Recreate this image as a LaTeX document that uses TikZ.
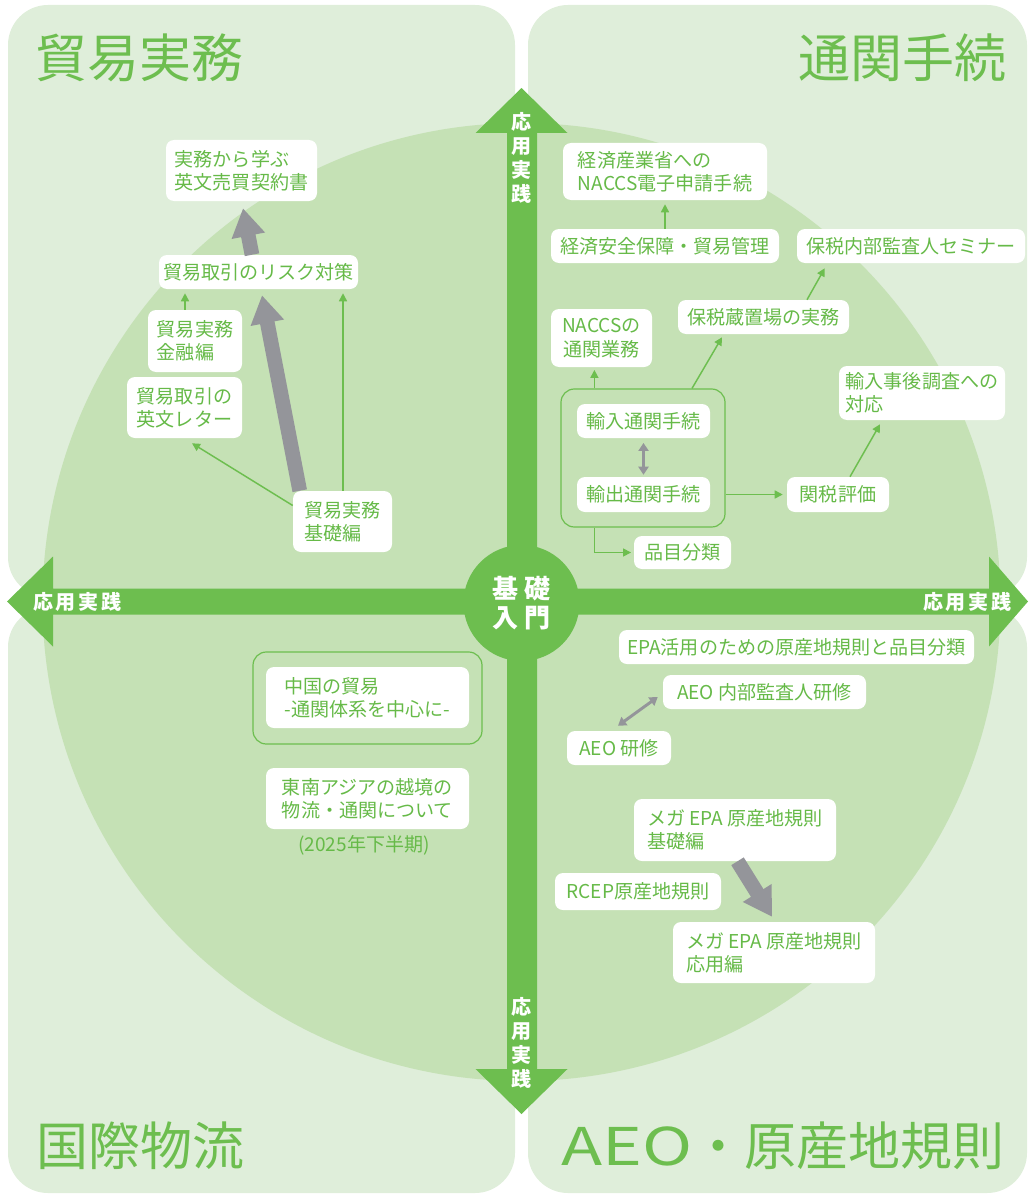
\documentclass[tikz,border=0pt]{standalone}
\usepackage{fontspec}
\usepackage{graphicx}
\setmainfont{Noto Sans CJK JP}
\usetikzlibrary{arrows.meta,calc}
\definecolor{panel}{HTML}{DFEEDA}
\definecolor{circ}{HTML}{C5E1B5}
\definecolor{ag}{HTML}{6DBE4F}
\definecolor{tg}{HTML}{66BA48}
\definecolor{gr}{HTML}{94959A}
\newcommand\jpnode{\fontsize{14.3}{17.5}\selectfont}
\newcommand\jptitle{\fontsize{39}{44}\selectfont}
\newcommand\jpaxis{\fontsize{15}{18}\selectfont\bfseries}
\newcommand\jpcore{\fontsize{19.5}{22}\selectfont\bfseries}
\tikzset{
  box/.style={fill=white, rounded corners=6pt, text=tg, font=\jpnode, align=left, inner sep=0pt},
  wh/.style 2 args={minimum width=#1*0.75pt, minimum height=#2*0.75pt},
  grpbox/.style={draw=ag, line width=0.9pt, rounded corners=10pt, inner sep=0pt},
  link/.style={draw=ag, line width=1.1pt, -{Triangle[length=6pt,width=6pt]}},
  bigarrow/.style={draw=gr, line width=11pt, -{Triangle[length=21pt,width=24pt]}},
  dblarrow/.style={draw=gr, line width=2.8pt, {Triangle[length=6pt,width=7.5pt]}-{Triangle[length=6pt,width=7.5pt]}},
  titletext/.style={text=ag, font=\jptitle, inner sep=0pt},
  axislab/.style={text=white, font=\jpaxis, inner sep=0pt, align=center},
}
\begin{document}
\begin{tikzpicture}[x=0.75pt,y=-0.75pt]
\useasboundingbox (0,0) rectangle (1029,1195);
% panels
\fill[panel, rounded corners=30pt] (8,5) rectangle (515,597);
\fill[panel, rounded corners=30pt] (528,5) rectangle (1027,597);
\fill[panel, rounded corners=30pt] (8,607) rectangle (515,1193);
\fill[panel, rounded corners=30pt] (528,607) rectangle (1027,1193);
% big circle
\fill[circ] (521.5,602) circle[radius=359.25pt];
% axes
\fill[ag] (507,133) -- (475.5,133) -- (521.5,88) -- (567.5,133) -- (537,133)
  -- (537,1069) -- (567.5,1069) -- (521.5,1114) -- (475.5,1069) -- (507,1069) -- cycle;
\fill[ag] (53,588.5) -- (53,556.5) -- (7,601.5) -- (53,646.5) -- (53,614.5)
  -- (989,614.5) -- (989,646.5) -- (1028,601.5) -- (989,556.5) -- (989,588.5) -- cycle;
\node[circle, fill=ag, minimum size=116*0.75pt, inner sep=0pt, text=white, font=\jpcore, align=center] (core) at (521.5,603) {基\hspace{4pt}礎\\入\hspace{4pt}門};
\node[axislab] (vtop) at (521.5,158) {応\\用\\実\\践};
\node[axislab] (vbot) at (521.5,1043) {応\\用\\実\\践};
\node[axislab] (hleft) at (77,601.5) {応\hspace{2pt}用\hspace{2pt}実\hspace{2pt}践};
\node[axislab] (hright) at (967,601.5) {応\hspace{2pt}用\hspace{2pt}実\hspace{2pt}践};
% titles
\node[titletext, anchor=west] (t1) at (35,58) {貿易実務};
\node[titletext, anchor=east] (t2) at (1007,58) {通関手続};
\node[titletext, anchor=west] (t3) at (36,1146) {国際物流};
\node[titletext, anchor=east] (t4) at (1005,1146) {\scalebox{1.3}[1]{AEO}・原産地規則};
% top-left nodes
\node[box, wh={151}{61}] (prac) at (241.5,170.5) {実務から学ぶ\\英文売買契約書};
\node[box, wh={199}{34}] (risk) at (258.5,272) {貿易取引のリスク対策};
\node[box, wh={94}{62}] (fin) at (195,341) {貿易実務\\金融編};
\node[box, wh={115}{61}] (letter) at (184.5,407.5) {貿易取引の\\英文レター};
\node[box, wh={99}{61}] (kiso) at (342.5,521.5) {貿易実務\\基礎編};
% top-right nodes
\node[box, wh={204}{57}] (meti) at (665,171.5) {経済産業省への\\NACCS電子申請手続};
\node[box, wh={228}{34}] (ecosec) at (665,246) {経済安全保障・貿易管理};
\node[box, wh={228}{34}] (hozeiaudit) at (911,246) {保税内部監査人セミナー};
\node[box, wh={101}{58}, align=center] (naccs) at (601.5,338) {NACCSの\\通関業務};
\node[box, wh={171}{34}] (hozei) at (763.5,317) {保税蔵置場の実務};
\node[box, wh={166}{54}] (postaudit) at (922,393) {輸入事後調査への\\対応};
\node[grpbox, wh={164}{138}] (grp) at (643,458) {};
\node[box, wh={133}{34}] (import) at (643.5,421) {輸入通関手続};
\node[box, wh={133}{35}] (export) at (643.5,494.5) {輸出通関手続};
\node[box, wh={102}{35}] (valuation) at (838,494.5) {関税評価};
\node[box, wh={97}{33}] (hinmoku) at (682.5,552.5) {品目分類};
% bottom-left nodes
\node[grpbox, wh={229}{92}] (grp2) at (367.5,698) {};
\node[box, wh={203}{61}] (china) at (367.5,697.5) {中国の貿易\\-通関体系を中心に-};
\node[box, wh={203}{61}] (sea) at (367.5,798.5) {東南アジアの越境の\\物流・通関について};
\node[text=tg, font=\jpnode, inner sep=0pt] (note) at (364,845) {(2025年下半期)};
% bottom-right nodes
\node[box, wh={355}{34}] (epa) at (796.5,647) {EPA活用のための原産地規則と品目分類};
\node[box, wh={203}{34}] (aeoaud) at (764.5,692) {AEO~内部監査人研修};
\node[box, wh={104}{34}] (aeo) at (619,748) {AEO~研修};
\node[box, wh={202}{62}] (mega1) at (735,830) {メガ~EPA~原産地規則\\基礎編};
\node[box, wh={166}{37}] (rcep) at (638,891.5) {RCEP原産地規則};
\node[box, wh={202}{61}] (mega2) at (774,952.5) {メガ~EPA~原産地規則\\応用編};
% connectors top-left
\coordinate (a1s) at ($(kiso.north west)+(7,0)$);
\coordinate (a1e) at ($(risk.south)+(3.5,6)$);
\draw[bigarrow] (a1s) -- (a1e);
\coordinate (a2s) at ($(risk.north)+(-6.5,0)$);
\coordinate (a2e) at ($(prac.south)+(1.5,7)$);
\draw[bigarrow] (a2s) -- (a2e);
\coordinate (f1) at ($(fin.north)+(-10,0)$);
\draw[link, shorten >=3pt] (f1) -- (f1 |- risk.south);
\coordinate (k1) at ($(kiso.north)+(0.5,0)$);
\draw[link, shorten >=3pt] (k1) -- (k1 |- risk.south);
\coordinate (k2) at ($(kiso.west)+(0,-16)$);
\coordinate (l1) at ($(letter.south)+(7.5,5)$);
\draw[link] (k2) -- (l1);
% connectors top-right
\draw[link, shorten >=3pt] (ecosec.north) -- (meti.south);
\coordinate (h1) at ($(hozei.north)+(43.5,0)$);
\coordinate (h2) at ($(hozeiaudit.south west)+(28,5)$);
\draw[link] (h1) -- (h2);
\coordinate (g1) at ($(grp.north)+(49,0)$);
\coordinate (g2) at ($(hozei.south)+(-41.5,3)$);
\draw[link] (g1) -- (g2);
\coordinate (g3) at ($(grp.north west)+(34,0)$);
\draw[link, shorten >=2pt] (g3) -- (g3 |- naccs.south);
\draw[link, shorten >=3pt] (grp.east |- export) -- (valuation.west);
\coordinate (v1) at ($(valuation.north)+(12,0)$);
\coordinate (v2) at ($(postaudit.south)+(-42,4)$);
\draw[link] (v1) -- (v2);
\coordinate (g4) at ($(grp.south west)+(34,0)$);
\draw[link, shorten >=2pt] (g4) |- (hinmoku.west);
\draw[dblarrow, shorten <=3.5pt, shorten >=1.5pt] (import.south) -- (export.north);
% connectors bottom-right
\coordinate (q1) at ($(aeo.north)+(-1,-5)$);
\coordinate (q2) at ($(aeoaud.west)+(-5,5)$);
\draw[dblarrow, line width=2.2pt] (q1) -- (q2);
\coordinate (m1) at ($(mega1.south)+(2.5,0)$);
\coordinate (m2) at ($(mega2.north)+(-2,-5)$);
\draw[bigarrow] (m1) -- (m2);
\end{tikzpicture}
\end{document}
